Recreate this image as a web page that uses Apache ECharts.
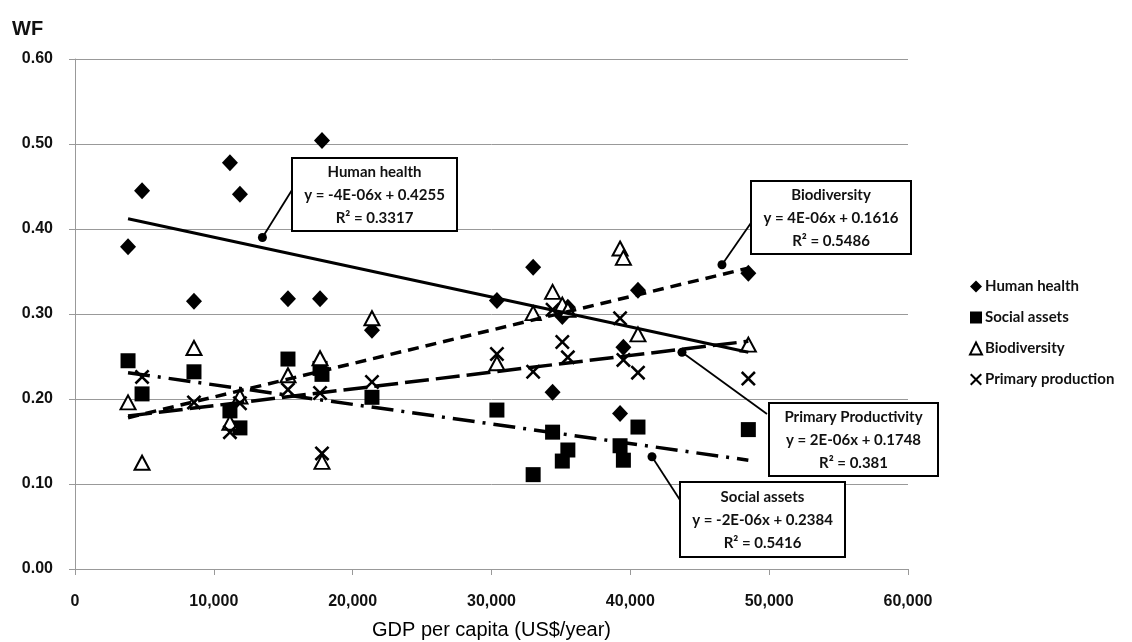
<!DOCTYPE html>
<html><head><meta charset="utf-8">
<script src="https://cdn.jsdelivr.net/npm/echarts@6/dist/echarts.min.js"></script>
<style>html,body{margin:0;padding:0;background:#fff}#c{width:1132px;height:642px}</style>
</head><body><div id="c"></div>
<script>
// GDP per capita (US$/year) per country
const gdp = [3820, 4830, 8570, 11160, 11880, 15340, 17650, 17790, 21390, 30390, 33000, 34400, 35100, 35500, 39260, 39500, 40550, 48500];
const humanHealth = [0.379, 0.445, 0.315, 0.478, 0.441, 0.318, 0.318, 0.504, 0.281, 0.316, 0.355, 0.208, 0.297, 0.308, 0.183, 0.261, 0.328, 0.348];
const socialAssets = [0.245, 0.206, 0.232, 0.186, 0.166, 0.247, 0.236, 0.229, 0.202, 0.187, 0.111, 0.161, 0.127, 0.140, 0.145, 0.128, 0.167, 0.164];
const biodiversity = [0.196, 0.125, 0.260, 0.172, 0.203, 0.228, 0.248, 0.126, 0.295, 0.242, 0.301, 0.326, 0.311, 0.305, 0.377, 0.366, 0.276, 0.264];
const primaryProd = [null, 0.226, 0.196, 0.161, 0.195, 0.211, 0.207, 0.136, 0.220, 0.253, 0.232, 0.305, 0.267, 0.249, 0.295, 0.246, 0.231, 0.224];

// Trendline end points
const hhTrend = [[3820, 0.412], [48500, 0.255]];
const bioTrend = [[3820, 0.178], [48500, 0.354]];
const ppTrend = [[3820, 0.180], [48500, 0.268]];
const saTrend = [[3820, 0.231], [48500, 0.128]];

// Callout anchor points on trendlines
const calloutPts = [[13500, 0.390], [46600, 0.358], [43720, 0.255], [41560, 0.132]];
const calloutTexts = [
  ['Human health', 'y = -4E-06x + 0.4255', 'R\u00b2 = 0.3317'],
  ['Biodiversity', 'y = 4E-06x + 0.1616', 'R\u00b2 = 0.5486'],
  ['Primary Productivity', 'y = 2E-06x + 0.1748', 'R\u00b2 = 0.381'],
  ['Social assets', 'y = -2E-06x + 0.2384', 'R\u00b2 = 0.5416']
];

const seriesNames = ['Human health', 'Social assets', 'Biodiversity', 'Primary production'];

const pair = (ys) => gdp.map((x, i) => [x, ys[i]]).filter(p => p[1] !== null);
const crossPath = 'path://M0,1.2L1.2,0L5,3.8L8.8,0L10,1.2L6.2,5L10,8.8L8.8,10L5,6.2L1.2,10L0,8.8L3.8,5Z';

const chart = echarts.init(document.getElementById('c'), null, {renderer: 'canvas'});
const labelFont = '"Liberation Sans", Arial, sans-serif';
const boxFont = 'Lato, "Open Sans", sans-serif';

function trend(data, type, w) {
  return {type: 'line', data: data, symbol: 'none', silent: true, z: 5,
    lineStyle: {color: '#000', width: w, type: type, cap: 'butt'}, animation: false};
}

chart.setOption({
  animation: false,
  backgroundColor: '#fff',
  grid: {left: 75, right: 224, top: 59, bottom: 73, containLabel: false, outerBoundsMode: 'none'},
  xAxis: {
    type: 'value', min: 0, max: 60000, interval: 10000,
    name: 'GDP per capita (US$/year)', nameLocation: 'middle', nameGap: 51,
    nameTextStyle: {fontFamily: labelFont, fontSize: 20, color: '#000'},
    axisLine: {show: true, lineStyle: {color: '#999', width: 1}},
    axisTick: {show: true, length: 6, lineStyle: {color: '#999'}},
    axisLabel: {fontFamily: labelFont, fontSize: 16, fontWeight: 'bold', color: '#111', margin: 25,
      formatter: v => v.toLocaleString('en-US')},
    splitLine: {show: false}
  },
  yAxis: {
    type: 'value', min: 0, max: 0.6, interval: 0.1,
    name: 'WF', nameLocation: 'end', nameGap: 20,
    nameTextStyle: {fontFamily: labelFont, fontSize: 20, fontWeight: 'bold', color: '#111', align: 'left', padding: [0, 0, 0, -63]},
    axisLine: {show: true, lineStyle: {color: '#999', width: 1}},
    axisTick: {show: true, length: 6, lineStyle: {color: '#999'}},
    axisLabel: {fontFamily: labelFont, fontSize: 16, fontWeight: 'bold', color: '#111', margin: 22,
      formatter: v => v.toFixed(2)},
    splitLine: {show: true, lineStyle: {color: '#999', width: 1}}
  },
  legend: {
    orient: 'vertical', left: 964, top: 274, itemGap: 16, itemWidth: 12, itemHeight: 12,
    data: seriesNames,
    textStyle: {fontFamily: boxFont, fontSize: 15, fontWeight: 'bold', color: '#111', padding: [0, 0, 0, -2]}
  },
  series: [
    {name: 'Human health', type: 'scatter', data: pair(humanHealth), symbol: 'diamond', symbolSize: [16, 17],
      itemStyle: {color: '#000', opacity: 1}, z: 3},
    {name: 'Social assets', type: 'scatter', data: pair(socialAssets), symbol: 'rect', symbolSize: 15,
      itemStyle: {color: '#000', opacity: 1}, z: 3},
    {name: 'Biodiversity', type: 'scatter', data: pair(biodiversity), symbol: 'emptyTriangle', symbolSize: [15, 14],
      itemStyle: {color: '#000', borderColor: '#000', borderWidth: 2.2, opacity: 1}, z: 3},
    {name: 'Primary production', type: 'scatter', data: pair(primaryProd), symbol: crossPath, symbolSize: 15,
      itemStyle: {color: '#000', opacity: 1}, z: 3},
    trend(hhTrend, 'solid', 3),
    trend(bioTrend, [11, 7], 3.5),
    trend(ppTrend, [24, 7], 3.5),
    trend(saTrend, [22, 8, 3, 8], 3.5),
    {type: 'scatter', data: calloutPts, symbol: 'circle', symbolSize: 9, silent: true, z: 6,
      itemStyle: {color: '#000', opacity: 1}}
  ]
});

// Callout boxes (pixel layout) with leader lines to anchors on trendlines
const boxes = [
  {x0: 292, y0: 158, x1: 457, y1: 231, lx: 292, ly: 190},
  {x0: 751, y0: 181, x1: 911, y1: 254, lx: 753, ly: 220},
  {x0: 769, y0: 403, x1: 938, y1: 476, lx: 767, ly: 414},
  {x0: 680, y0: 482, x1: 845, y1: 557, lx: 680, ly: 500}
];
const g = [];
boxes.forEach((b, i) => {
  const p = chart.convertToPixel({gridIndex: 0}, calloutPts[i]);
  g.push({type: 'line', shape: {x1: p[0], y1: p[1], x2: b.lx, y2: b.ly},
    style: {stroke: '#000', lineWidth: 1.8}, z: 20});
  g.push({type: 'rect', shape: {x: b.x0, y: b.y0, width: b.x1 - b.x0, height: b.y1 - b.y0},
    style: {fill: '#fff', stroke: '#000', lineWidth: 2}, z: 21});
  const cx = (b.x0 + b.x1) / 2;
  const h = b.y1 - b.y0;
  calloutTexts[i].forEach((t, k) => {
    g.push({type: 'text', x: cx, y: b.y0 + h * (0.2 + 0.31 * k),
      style: {text: t, fill: '#111', font: 'bold 15px ' + boxFont, textAlign: 'center', textVerticalAlign: 'middle'}, z: 22});
  });
});
chart.setOption({graphic: g});
</script></body></html>
